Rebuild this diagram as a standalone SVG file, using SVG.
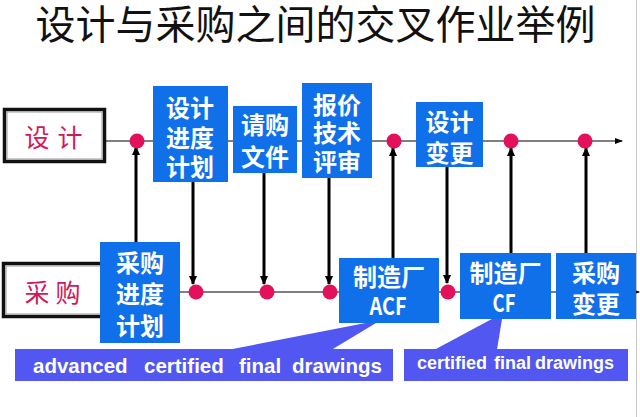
<svg xmlns="http://www.w3.org/2000/svg" width="640" height="417" viewBox="0 0 640 417">
<style>
.box{fill:#1070EA}
.bt{fill:#fff;font-family:"Noto Sans CJK SC","Noto Sans CJK JP",sans-serif;font-weight:bold;font-size:24px;text-anchor:middle}
.lt{font-family:"Liberation Sans",Arial,sans-serif;font-weight:bold;fill:#fff}
.lab{fill:#D0185C;font-family:"Noto Sans CJK SC",sans-serif;font-size:25px;text-anchor:middle}
.dot{fill:#E3115B}
.axis{stroke:#555;stroke-width:1.3;fill:none}
.v{stroke:#000;stroke-width:3;fill:none;marker-end:url(#ah)}
.call{fill:#5157F0}
</style>
<defs>
<marker id="ah" markerUnits="userSpaceOnUse" markerWidth="9" markerHeight="9" viewBox="0 0 9 9" refX="8" refY="4.5" orient="auto">
<path d="M0,0.5 L9,4.5 L0,8.5 Z" fill="#000"/>
</marker>
<marker id="ah2" markerUnits="userSpaceOnUse" markerWidth="8" markerHeight="8" viewBox="0 0 8 8" refX="7" refY="4" orient="auto">
<path d="M0,1 L8,4 L0,7 Z" fill="#000"/>
</marker>
</defs>
<rect width="640" height="417" fill="#fff"/>
<line x1="636.5" y1="0" x2="636.5" y2="417" stroke="#c8c8c8" stroke-width="1"/>

<text x="315.5" y="39" font-family="Noto Sans CJK SC,sans-serif" font-size="40" fill="#111" text-anchor="middle">设计与采购之间的交叉作业举例</text>

<g id="connectors">
<line class="axis" x1="106" y1="141" x2="622" y2="141" marker-end="url(#ah2)"/>
<line class="axis" x1="100" y1="292" x2="639" y2="292" marker-end="url(#ah2)"/>
<line class="v" x1="136" y1="242" x2="136" y2="147"/>
<line class="v" x1="193" y1="182" x2="193" y2="284"/>
<line class="v" x1="264" y1="173" x2="264" y2="284"/>
<line class="v" x1="329" y1="178" x2="329" y2="284"/>
<line class="v" x1="393" y1="258" x2="393" y2="148"/>
<line class="v" x1="447" y1="167" x2="447" y2="283"/>
<line class="v" x1="511" y1="253" x2="511" y2="148"/>
<line class="v" x1="586" y1="253" x2="586" y2="148"/>
</g>

<g id="dots">
<circle class="dot" cx="137" cy="141" r="7.5"/>
<circle class="dot" cx="394" cy="141" r="7.5"/>
<circle class="dot" cx="511" cy="141" r="7.5"/>
<circle class="dot" cx="585" cy="141" r="7.5"/>
<circle class="dot" cx="196" cy="292" r="7.5"/>
<circle class="dot" cx="267" cy="292" r="7.5"/>
<circle class="dot" cx="330" cy="292" r="7.5"/>
<circle class="dot" cx="448" cy="292" r="7.5"/>
</g>

<g id="label-design">
<rect x="4.5" y="109.5" width="100" height="52" fill="#fff" stroke="#111" stroke-width="3.5"/>
<rect x="7" y="112" width="95" height="47" fill="none" stroke="#999" stroke-width="1"/>
<text class="lab" x="37 70" y="147">设计</text>
</g>

<g id="label-purchase">
<rect x="3.5" y="263.5" width="110" height="53" fill="#fff" stroke="#111" stroke-width="3.5"/>
<rect x="6" y="266" width="105" height="48" fill="none" stroke="#999" stroke-width="1"/>
<text class="lab" x="37 68" y="302">采购</text>
</g>

<g id="callout-acf">
<polygon class="call" points="230,349.5 381,320 332,349.5"/>
<rect class="call" x="15" y="349" width="378" height="32"/>
<text class="lt" font-size="20.5" y="373"><tspan x="33">advanced</tspan><tspan x="144">certified</tspan><tspan x="239">final</tspan><tspan x="292">drawings</tspan></text>
</g>

<g id="callout-cf">
<polygon class="call" points="435,349.5 503,313 497,349.5"/>
<rect class="call" x="404" y="349" width="224" height="32"/>
<text class="lt" font-size="18" y="369"><tspan x="417">certified</tspan><tspan x="494">final</tspan><tspan x="535">drawings</tspan></text>
</g>

<g id="n-design-schedule">
<rect class="box" x="153" y="86" width="75" height="96"/>
<text class="bt" x="190" y="117">设计</text>
<text class="bt" x="190" y="146.5">进度</text>
<text class="bt" x="190" y="175.5">计划</text>
</g>

<g id="n-requisition">
<rect class="box" x="233" y="106" width="64" height="67"/>
<text class="bt" x="265" y="134">请购</text>
<text class="bt" x="265" y="166">文件</text>
</g>

<g id="n-tech-review">
<rect class="box" x="302" y="83" width="70" height="95"/>
<text class="bt" x="337" y="114">报价</text>
<text class="bt" x="337" y="142">技术</text>
<text class="bt" x="337" y="171">评审</text>
</g>

<g id="n-design-change">
<rect class="box" x="416" y="102" width="67" height="65"/>
<text class="bt" x="449.5" y="131">设计</text>
<text class="bt" x="449.5" y="161.5">变更</text>
</g>

<g id="n-purchase-schedule">
<rect class="box" x="100" y="242" width="80" height="101"/>
<text class="bt" x="140" y="272">采购</text>
<text class="bt" x="140" y="303">进度</text>
<text class="bt" x="140" y="335">计划</text>
</g>

<g id="n-acf">
<rect class="box" x="339" y="258" width="100" height="65"/>
<text class="bt" x="389" y="285.5" font-size="25">制造厂</text>
<text class="bt" x="388" y="315" font-size="22" textLength="37" lengthAdjust="spacingAndGlyphs">ACF</text>
</g>

<g id="n-cf">
<rect class="box" x="460" y="253" width="91" height="66"/>
<text class="bt" x="505.5" y="282" font-size="25">制造厂</text>
<text class="bt" x="504" y="312" font-size="22" textLength="23" lengthAdjust="spacingAndGlyphs">CF</text>
</g>

<g id="n-purchase-change">
<rect class="box" x="556" y="253" width="80" height="66"/>
<text class="bt" x="596" y="282">采购</text>
<text class="bt" x="596" y="313">变更</text>
</g>
</svg>
